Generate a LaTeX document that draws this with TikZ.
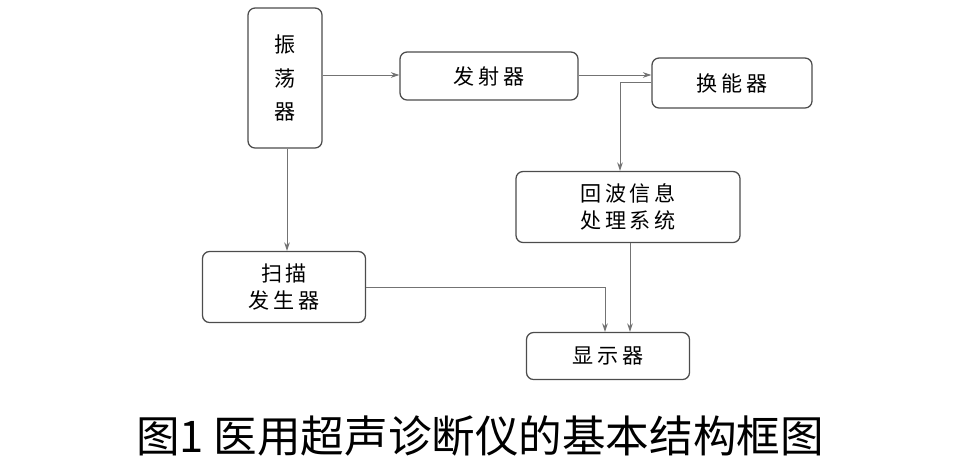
\documentclass[tikz,border=0pt]{standalone}
\usepackage{fontspec}
\newfontfamily\cjk{Noto Sans CJK SC}
\usetikzlibrary{arrows.meta}
\begin{document}
\begin{tikzpicture}[x=0.025cm,y=-0.025cm,
  box/.style={draw=black!70,line width=0.9pt,rounded corners=5pt,font=\cjk\fontsize{15}{19}\selectfont,align=center,inner sep=0pt},
  conn/.style={draw=black!55,line width=0.7pt,-{Stealth[length=6pt,width=4pt]}}]
\useasboundingbox (0,0) rectangle (972,469);
\node[box,font=\cjk\fontsize{15}{24}\selectfont,minimum width=74*0.025cm,minimum height=140*0.025cm] (osc) at (285,78) {振\\荡\\器};
\node[box,minimum width=178*0.025cm,minimum height=48*0.025cm] (tx) at (489,76) {发\,射\,器};
\node[box,minimum width=160*0.025cm,minimum height=50*0.025cm] (tr) at (732,83) {换\,能\,器};
\node[box,minimum width=224*0.025cm,minimum height=71*0.025cm] (echo) at (628,207) {回\,波\,信\,息\\处\,理\,系\,统};
\node[box,minimum width=163*0.025cm,minimum height=71*0.025cm] (scan) at (284,287) {扫\,描\\发\,生\,器};
\node[box,minimum width=163*0.025cm,minimum height=47*0.025cm] (disp) at (608,356) {显\,示\,器};
\draw[conn] (osc.east |- 0,75) -- (tx.west |- 0,75);
\draw[conn] (tx.east |- 0,75) -- (tr.west |- 0,75);
\draw[conn] (tr.west |- 0,82) -| (echo.north -| 620,0);
\draw[conn] (osc.south -| 287,0) -- (scan.north -| 287,0);
\draw[conn] (scan.east) -| (disp.north -| 605,0);
\draw[conn] (echo.south -| 630,0) -- (disp.north -| 630,0);
\node[font=\cjk\fontsize{31}{36}\selectfont] (cap) at (480,436) {图1 医用超声诊断仪的基本结构框图};
\end{tikzpicture}
\end{document}
